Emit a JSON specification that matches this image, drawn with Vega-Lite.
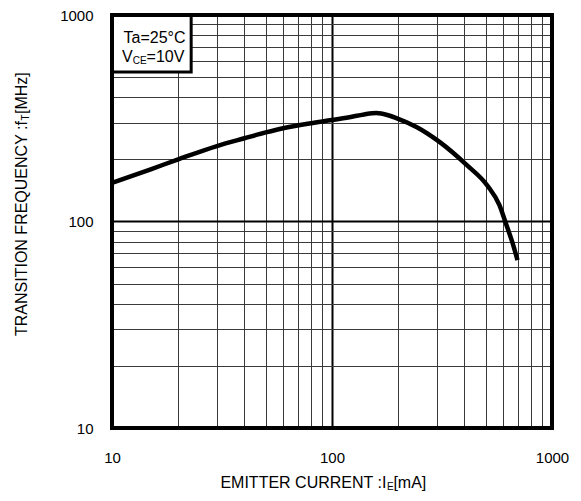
{
  "$schema": "https://vega.github.io/schema/vega-lite/v6.json",
  "width": 440,
  "height": 413,
  "autosize": {"type": "none"},
  "padding": {"left": 112, "top": 15, "right": 29, "bottom": 73},
  "config": {"view": {"stroke": null}, "font": "Liberation Sans"},
  "data": {"values": [
    {"ie": 10, "ft": 154}, {"ie": 15, "ft": 179}, {"ie": 20, "ft": 200}, {"ie": 30, "ft": 232},
    {"ie": 40, "ft": 253}, {"ie": 50, "ft": 270}, {"ie": 60, "ft": 283}, {"ie": 80, "ft": 299},
    {"ie": 100, "ft": 310}, {"ie": 120, "ft": 320}, {"ie": 140, "ft": 330}, {"ie": 159, "ft": 335},
    {"ie": 180, "ft": 327}, {"ie": 196, "ft": 317}, {"ie": 242, "ft": 287}, {"ie": 308, "ft": 243},
    {"ie": 409, "ft": 188}, {"ie": 509, "ft": 149}, {"ie": 577, "ft": 120}, {"ie": 615, "ft": 99},
    {"ie": 661, "ft": 79}, {"ie": 697, "ft": 65}
  ]},
  "layer": [
    {
      "mark": {"type": "line", "color": "black", "strokeWidth": 4.5, "interpolate": "monotone"},
      "encoding": {
        "x": {"field": "ie", "type": "quantitative",
          "scale": {"type": "log", "domain": [10, 1000]},
          "axis": {"values": [10,20,30,40,50,60,70,80,90,100,200,300,400,500,600,700,800,900,1000],
            "format": "d",
            "labelExpr": "(datum.value==10||datum.value==100||datum.value==1000)?datum.label:''",
            "grid": true,
            "gridColor": {"condition": {"test": "datum.value==10||datum.value==100||datum.value==1000", "value": "black"}, "value": "#3a3a3a"},
            "gridWidth": {"condition": {"test": "datum.value==100", "value": 2}, "value": 1},
            "gridOpacity": 1,
            "ticks": false, "domain": false, "title": null,
            "labelFontSize": 15, "labelColor": "black", "labelPadding": 22,
            "labelFlush": false, "labelOverlap": false}},
        "y": {"field": "ft", "type": "quantitative",
          "scale": {"type": "log", "domain": [10, 1000]},
          "axis": {"values": [10,20,30,40,50,60,70,80,90,100,200,300,400,500,600,700,800,900,1000],
            "format": "d",
            "labelExpr": "(datum.value==10||datum.value==100||datum.value==1000)?datum.label:''",
            "grid": true,
            "gridColor": {"condition": {"test": "datum.value==10||datum.value==100||datum.value==1000", "value": "black"}, "value": "#3a3a3a"},
            "gridWidth": {"condition": {"test": "datum.value==100", "value": 2}, "value": 1},
            "gridOpacity": 1,
            "ticks": false, "domain": false, "title": null,
            "labelFontSize": 15, "labelColor": "black", "labelPadding": 19,
            "labelFlush": false, "labelOverlap": false}}
      }
    },
    {
      "data": {"values": [{}]},
      "mark": {"type": "rect", "fill": "white", "stroke": "black", "strokeWidth": 3},
      "encoding": {
        "x": {"datum": 10, "type": "quantitative"}, "x2": {"datum": 22.9},
        "y": {"datum": 1000, "type": "quantitative"}, "y2": {"datum": 529}
      }
    },
    {
      "data": {"values": [{}]},
      "mark": {"type": "text", "text": "Ta=25°C", "fontSize": 16, "align": "center", "baseline": "middle", "color": "black"},
      "encoding": {"x": {"datum": 15.6, "type": "quantitative"}, "y": {"datum": 774, "type": "quantitative"}}
    },
    {
      "data": {"values": [{}]},
      "mark": {"type": "text", "text": "V", "fontSize": 16, "align": "left", "baseline": "middle", "color": "black"},
      "encoding": {"x": {"datum": 11.1, "type": "quantitative"}, "y": {"datum": 627, "type": "quantitative"}}
    },
    {
      "data": {"values": [{}]},
      "mark": {"type": "text", "text": "CE", "fontSize": 10, "align": "left", "baseline": "middle", "dx": 10.7, "dy": 4, "color": "black"},
      "encoding": {"x": {"datum": 11.1, "type": "quantitative"}, "y": {"datum": 627, "type": "quantitative"}}
    },
    {
      "data": {"values": [{}]},
      "mark": {"type": "text", "text": "=10V", "fontSize": 16, "align": "left", "baseline": "middle", "dx": 24.6, "color": "black"},
      "encoding": {"x": {"datum": 11.1, "type": "quantitative"}, "y": {"datum": 627, "type": "quantitative"}}
    },
    {
      "data": {"values": [{}]},
      "mark": {"type": "text", "text": "EMITTER CURRENT :I", "fontSize": 16, "align": "left", "baseline": "middle", "color": "black", "clip": false},
      "encoding": {"x": {"datum": 31.1, "type": "quantitative"}, "y": {"datum": 5.42, "type": "quantitative"}}
    },
    {
      "data": {"values": [{}]},
      "mark": {"type": "text", "text": "E", "fontSize": 10, "align": "left", "baseline": "middle", "dx": 166.5, "dy": 4, "color": "black", "clip": false},
      "encoding": {"x": {"datum": 31.1, "type": "quantitative"}, "y": {"datum": 5.42, "type": "quantitative"}}
    },
    {
      "data": {"values": [{}]},
      "mark": {"type": "text", "text": "[mA]", "fontSize": 16, "align": "left", "baseline": "middle", "dx": 173, "color": "black", "clip": false},
      "encoding": {"x": {"datum": 31.1, "type": "quantitative"}, "y": {"datum": 5.42, "type": "quantitative"}}
    },
    {
      "data": {"values": [{}]},
      "mark": {"type": "text", "text": "TRANSITION FREQUENCY :f", "fontSize": 16, "angle": 270, "align": "left", "baseline": "middle", "color": "black", "clip": false},
      "encoding": {"x": {"datum": 3.88, "type": "quantitative"}, "y": {"datum": 27.9, "type": "quantitative"}}
    },
    {
      "data": {"values": [{}]},
      "mark": {"type": "text", "text": "T", "fontSize": 10, "angle": 270, "align": "left", "baseline": "middle", "dx": 215.5, "dy": 4, "color": "black", "clip": false},
      "encoding": {"x": {"datum": 3.88, "type": "quantitative"}, "y": {"datum": 27.9, "type": "quantitative"}}
    },
    {
      "data": {"values": [{}]},
      "mark": {"type": "text", "text": "[MHz]", "fontSize": 16, "angle": 270, "align": "left", "baseline": "middle", "dx": 222, "color": "black", "clip": false},
      "encoding": {"x": {"datum": 3.88, "type": "quantitative"}, "y": {"datum": 27.9, "type": "quantitative"}}
    },
    {
      "data": {"values": [{}]},
      "mark": {"type": "rect", "fill": null, "fillOpacity": 0, "stroke": "black", "strokeWidth": 4},
      "encoding": {
        "x": {"datum": 10, "type": "quantitative"}, "x2": {"datum": 1000},
        "y": {"datum": 10, "type": "quantitative"}, "y2": {"datum": 1000}
      }
    }
  ]
}
